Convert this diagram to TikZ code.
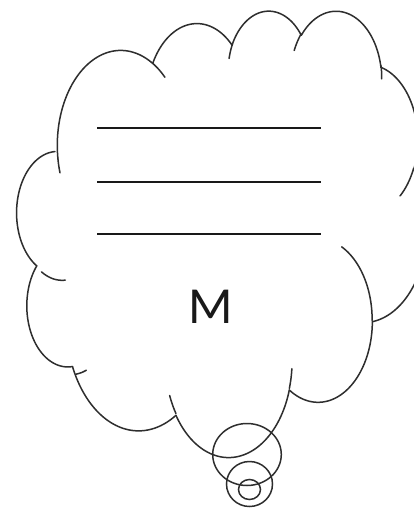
\documentclass[tikz,border=0pt]{standalone}
\usepackage{fontspec}
\newfontfamily\mfont{Carlito}
\tikzset{
  cloudline/.style={line width=1.5pt, draw=black!82, line cap=round, line join=round},
  rule/.style={line width=1.8pt, draw=black!90},
  bubble/.style={line width=1.5pt, draw=black!82},
}
% arc in DrawingML style: #1 wR, #2 hR, #3 start angle, #4 sweep (degrees); current point in \ooX,\ooY
\newcommand\ooArc[4]{%
  \pgfmathsetmacro\ooTa{atan2(#1*sin(#3),#2*cos(#3))}%
  \pgfmathsetmacro\ooTbraw{atan2(#1*sin(#3+#4),#2*cos(#3+#4))}%
  \pgfmathsetmacro\ooD{mod(\ooTbraw-\ooTa+720,360)}%
  \pgfmathsetmacro\ooCx{\ooX-#1*cos(\ooTa)}%
  \pgfmathsetmacro\ooCy{\ooY-#2*sin(\ooTa)}%
  \pgfmathsetmacro\ooTb{\ooTa+\ooD}%
  \draw[cloudline] plot[domain=\ooTa:\ooTb, samples=60, variable=\t] ({\ooCx+#1*cos(\t)},{\ooCy+#2*sin(\t)});
  \pgfmathsetmacro\ooX{\ooCx+#1*cos(\ooTb)}%
  \pgfmathsetmacro\ooY{\ooCy+#2*sin(\ooTb)}%
}
\newcommand\ooMove[2]{\def\ooX{#1}\def\ooY{#2}}
\begin{document}
\begin{tikzpicture}[x=1pt,y=-1pt]
\useasboundingbox (0,0) rectangle (414,509);
\fill[white] (0,0) rectangle (414,509);
\begin{scope}
\clip (0,0) rectangle (414,509);
\begin{scope}[shift={(21.26pt,-9.7pt)}, x={(9.387pt,0pt)}, y={(0pt,-10.33pt)}]
  % main outline
  \ooMove{3.900}{14.370}
  \ooArc{6.753}{9.190}{-190.48748}{123.78053}
  \ooArc{5.333}{7.267}{-144.10238}{89.94523}
  \ooArc{4.365}{5.945}{-145.80792}{99.72302}
  \ooArc{4.857}{6.595}{-130.98607}{117.24173}
  \ooArc{5.333}{7.273}{-78.70888}{109.02692}
  \ooArc{6.775}{9.220}{-46.26725}{130.269}
  \ooArc{5.785}{7.867}{0.62502}{114.03333}
  \ooArc{6.752}{9.215}{22.4516}{115.17255}
  \ooArc{7.720}{10.543}{66.24263}{82.28122}
  \ooArc{4.360}{5.918}{-274.94208}{144.4402}
  \ooArc{4.345}{5.945}{-246.8285}{154.3872}
  % inner tails
  \ooMove{4.693}{26.177}\ooArc{4.345}{5.945}{86.742}{26.4295}
  \ooMove{6.928}{34.899}\ooArc{4.360}{5.918}{73.61047}{11.44747}
  \ooMove{16.478}{39.090}\ooArc{6.752}{9.215}{137.62415}{14.0811}
  \ooMove{28.827}{34.751}\ooArc{6.752}{9.215}{6.45327}{15.99835}
  \ooMove{34.129}{22.954}\ooArc{5.785}{7.867}{-70.29235}{70.91737}
  \ooMove{41.798}{15.354}\ooArc{5.333}{7.273}{30.31803}{27.7515}
  \ooMove{38.324}{5.426}\ooArc{4.857}{6.595}{-13.74433}{14.8589}
  \ooMove{29.078}{3.952}\ooArc{4.857}{6.595}{-149.18145}{18.19537}
  \ooMove{22.141}{4.720}\ooArc{4.365}{5.945}{-163.49427}{17.68635}
  \ooMove{14.000}{5.192}\ooArc{6.753}{9.190}{-66.70695}{12.31935}
  \ooMove{4.127}{15.789}\ooArc{6.753}{9.190}{157.65435}{11.85817}
\end{scope}
% thought bubbles
\draw[bubble] (247,454.5) ellipse [x radius=34.3pt, y radius=31pt];
\draw[bubble] (249.5,484) ellipse [x radius=23pt, y radius=22.5pt];
\draw[bubble] (249.5,489.5) ellipse [x radius=11pt, y radius=10pt];
\end{scope}
% blank lines
\coordinate (l1a) at (97,128); \coordinate (l1b) at (321,128);
\coordinate (l2a) at (97,182); \coordinate (l2b) at (321,182);
\coordinate (l3a) at (97,234); \coordinate (l3b) at (321,234);
\draw[rule] (l1a) -- (l1b);
\draw[rule] (l2a) -- (l2b);
\draw[rule] (l3a) -- (l3b);
% letter
\node[font=\mfont\fontsize{52}{52}\selectfont, inner sep=0pt, text=black!90] (m) at (211,306.5) {M};
\end{tikzpicture}
\end{document}
